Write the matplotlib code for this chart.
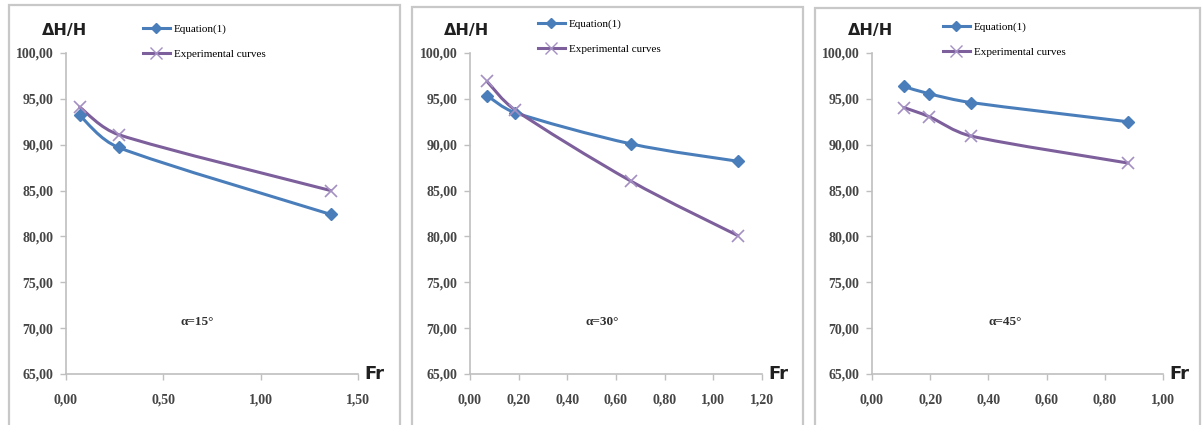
import matplotlib
matplotlib.use("Agg")
import matplotlib.pyplot as plt
from matplotlib.path import Path
from matplotlib.patches import PathPatch, Rectangle
from matplotlib.lines import Line2D
from matplotlib.ticker import FuncFormatter, MultipleLocator

# ---------------- data ----------------
fr_15 = [0.07, 0.27, 1.36]
eq_15 = [93.2, 89.7, 82.4]
exp_15 = [94.1, 91.1, 85.0]

fr_30 = [0.07, 0.185, 0.66, 1.10]
eq_30 = [95.35, 93.5, 90.1, 88.2]
exp_30 = [96.9, 93.8, 86.05, 80.1]

fr_45 = [0.11, 0.197, 0.34, 0.88]
eq_45 = [96.35, 95.55, 94.6, 92.5]
exp_45 = [94.05, 93.05, 90.95, 88.0]

panel_labels = ["α=15°", "α=30°", "α=45°"]
x_max = [1.5, 1.2, 1.0]
x_step = [0.5, 0.2, 0.2]
y_min, y_max, y_step = 65, 100, 5
series_names = ["Equation(1)", "Experimental curves"]
y_title = "ΔH/H"
x_title = "Fr"

panels = [
    (fr_15, eq_15, exp_15),
    (fr_30, eq_30, exp_30),
    (fr_45, eq_45, exp_45),
]

BLUE = "#4a7ebb"
PURPLE = "#7d5f9c"
PURPLE_MK = "#a48fc2"
GRID = "#bfbfbf"
TXT = "#454545"

W, H = 1202, 425
fig = plt.figure(figsize=(W / 100, H / 100), dpi=100)


def smooth_path(xs, ys, sx, sy):
    """Excel-style smoothed line: Catmull-Rom Bezier with capped arms.
    sx, sy convert data units to pixels so capping is done on screen."""
    pts = list(zip(xs, ys))
    n = len(pts)

    def pix(p):
        return (p[0] * sx, p[1] * sy)

    def dist(a, b):
        a, b = pix(a), pix(b)
        return ((a[0] - b[0]) ** 2 + (a[1] - b[1]) ** 2) ** 0.5

    def arm(vec, chord):
        px = (vec[0] * sx, vec[1] * sy)
        ln = (px[0] ** 2 + px[1] ** 2) ** 0.5
        cap = 0.4 * chord
        f = 1.0 if ln <= cap or ln == 0 else cap / ln
        return (vec[0] * f, vec[1] * f)

    verts = [pts[0]]
    codes = [Path.MOVETO]
    for i in range(n - 1):
        p0 = pts[i - 1] if i > 0 else pts[i]
        p1 = pts[i]
        p2 = pts[i + 1]
        p3 = pts[i + 2] if i + 2 < n else pts[i + 1]
        chord = dist(p1, p2)
        a1 = arm(((p2[0] - p0[0]) / 6.0, (p2[1] - p0[1]) / 6.0), chord)
        a2 = arm(((p3[0] - p1[0]) / 6.0, (p3[1] - p1[1]) / 6.0), chord)
        c1 = (p1[0] + a1[0], p1[1] + a1[1])
        c2 = (p2[0] - a2[0], p2[1] - a2[1])
        verts += [c1, c2, p2]
        codes += [Path.CURVE4, Path.CURVE4, Path.CURVE4]
    return Path(verts, codes)


# pixel geometry of each panel
frames = [(9, 5, 391, 425), (412, 7, 391, 425), (815, 8, 385, 425)]
axes_px = [(66, 358), (470, 762), (872, 1163)]
y_top_px, y_bot_px = 53, 374
legend_px = [(143, 27, 53), (538, 22, 48), (943, 25, 52)]
ytitle_px = [65, 467, 871]
alpha_px = [197, 602, 1005]

for k, (fr, eq, ex) in enumerate(panels):
    fx, fy, fw, fh = frames[k]
    fig.patches.append(Rectangle((fx / W, 1 - (fy + fh) / H), fw / W, fh / H,
                                 transform=fig.transFigure, fill=False,
                                 edgecolor="#c8c8c8", linewidth=1.6, zorder=0))

    x0, x1 = axes_px[k]
    ax = fig.add_axes([x0 / W, 1 - y_bot_px / H, (x1 - x0) / W,
                       (y_bot_px - y_top_px) / H])
    ax.set_xlim(0, x_max[k])
    ax.set_ylim(y_min, y_max)
    ax.patch.set_alpha(0)
    for s in ["top", "right"]:
        ax.spines[s].set_visible(False)
    for s in ["left", "bottom"]:
        ax.spines[s].set_color(GRID)
        ax.spines[s].set_linewidth(1.2)
    ax.xaxis.set_major_locator(MultipleLocator(x_step[k]))
    ax.yaxis.set_major_locator(MultipleLocator(y_step))
    fmt = FuncFormatter(lambda v, p: f"{v:.2f}".replace(".", ","))
    ax.xaxis.set_major_formatter(fmt)
    ax.yaxis.set_major_formatter(fmt)
    ax.tick_params(axis="both", colors=GRID, length=4, width=1.0,
                   labelcolor=TXT, labelsize=10)
    ax.tick_params(axis="x", pad=10)
    ax.tick_params(axis="y", pad=5)
    for lab in ax.get_xticklabels() + ax.get_yticklabels():
        lab.set_fontfamily("Liberation Serif")
        lab.set_fontweight("bold")

    sx = (x1 - x0) / x_max[k]
    sy = (y_bot_px - y_top_px) / (y_max - y_min)

    # curves
    ax.add_patch(PathPatch(smooth_path(fr, eq, sx, sy), fill=False,
                           edgecolor=BLUE, linewidth=2.2, capstyle="round",
                           zorder=3))
    ax.add_patch(PathPatch(smooth_path(fr, ex, sx, sy), fill=False,
                           edgecolor=PURPLE, linewidth=2.2, capstyle="round",
                           zorder=3))
    ax.plot(fr, eq, linestyle="none", marker="D", markersize=6.5,
            color=BLUE, zorder=4, clip_on=False)
    ax.plot(fr, ex, linestyle="none", marker="x", markersize=9,
            markeredgewidth=1.2, color=PURPLE_MK, zorder=4, clip_on=False)

    # legend
    lx, ly1, ly2 = legend_px[k]
    h1 = Line2D([], [], color=BLUE, linewidth=2.2, marker="D", markersize=5.5)
    h2 = Line2D([], [], color=PURPLE, linewidth=2.2, marker="x",
                markersize=8, markeredgecolor=PURPLE_MK, markeredgewidth=1.0)
    fig.legend([h1, h2], series_names, loc="upper left",
               bbox_to_anchor=(lx / W, 1 - (ly1 - 3) / H),
               frameon=False, handlelength=2.4, handletextpad=0.35,
               labelspacing=1.35, borderaxespad=0, borderpad=0,
               prop={"family": "Liberation Serif", "size": 8})

    fig.text(ytitle_px[k] / W, 1 - 30 / H, y_title, ha="center", va="center",
             fontsize=11.5, fontweight="bold", color="#202020",
             family="DejaVu Sans")
    fig.text((x1 + 16) / W, 1 - y_bot_px / H, x_title, ha="center",
             va="center", fontsize=13, fontweight="bold", color="#202020",
             family="DejaVu Sans")
    fig.text(alpha_px[k] / W, 1 - 322 / H, panel_labels[k], ha="center",
             va="center", fontsize=9.5, fontweight="bold", color="#303030",
             family="Liberation Serif")

fig.savefig("out.png", dpi=100)
